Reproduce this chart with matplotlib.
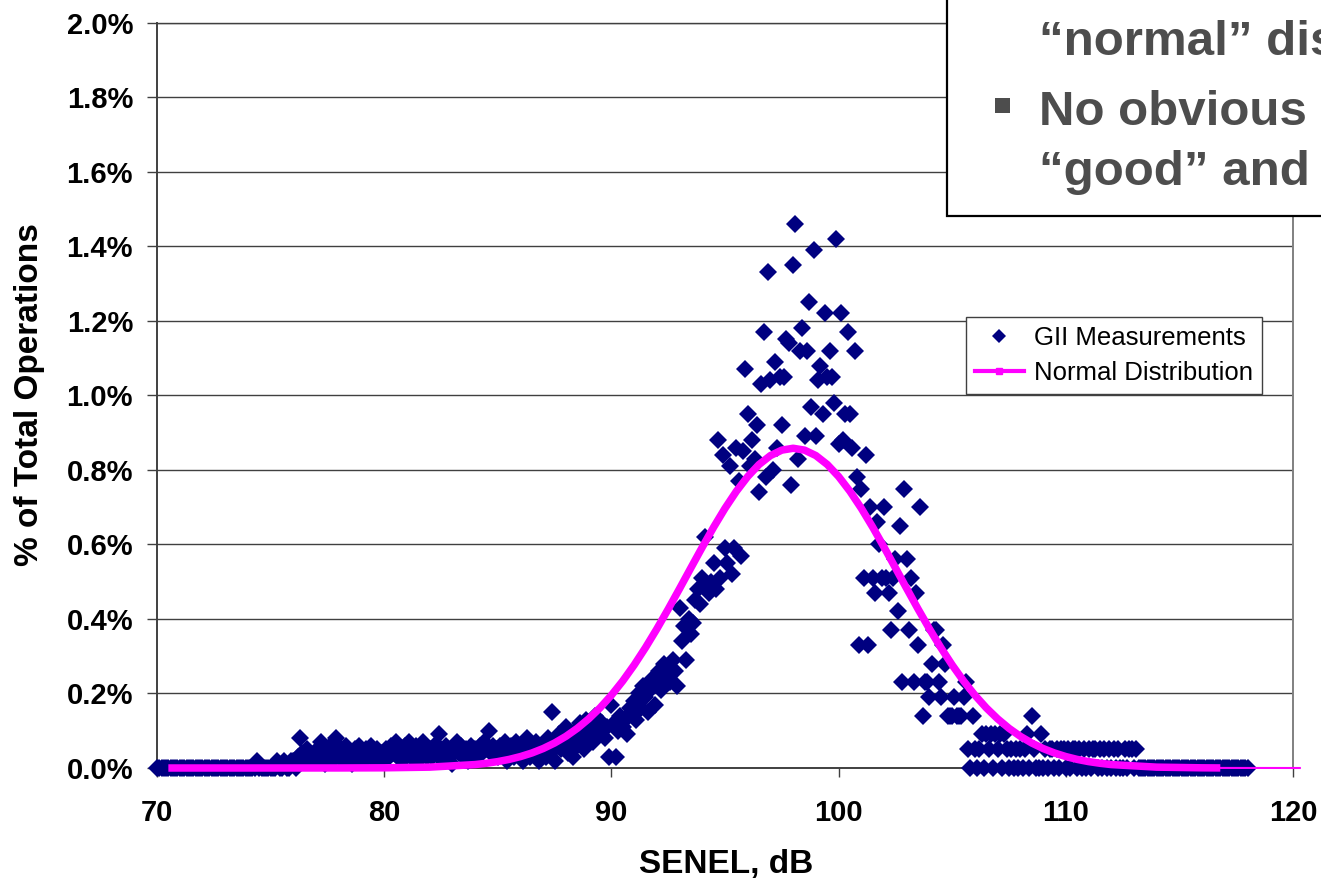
import numpy as np
import matplotlib

matplotlib.use("Agg")
import matplotlib.pyplot as plt
from matplotlib.lines import Line2D
from matplotlib.patches import Rectangle

plt.rcParams["font.family"] = ["Liberation Sans", "DejaVu Sans"]

W, H = 1321, 886

# GII measurements: % of operations per 0.1 dB bin, 70.0 .. 118.0 dB
senel_start = 70.0
senel_step = 0.1
gii_pct = (
    [0.0] * 40  # 70 - 73.9
    + [0, 0, 0, 0, 0.02, 0, 0, 0, 0, 0]
    + [0, 0, 0, 0.02, 0, 0, 0.02, 0, 0, 0.02]
    + [0.02, 0, 0.03, 0.08, 0.04, 0.02, 0.05, 0.03, 0.02, 0.04]
    + [0.02, 0.05, 0.07, 0.03, 0.01, 0.04, 0.06, 0.02, 0.05, 0.08]
    + [0.03, 0.05, 0.02, 0.06, 0.04, 0.03, 0.01, 0.05, 0.03, 0.06]
    + [0.04, 0.02, 0.05, 0.03, 0.06, 0.04, 0.02, 0.05, 0.03, 0.04]
    + [0.02, 0.05, 0.03, 0.06, 0.04, 0.07, 0.03, 0.05, 0.02, 0.06]
    + [0.04, 0.07, 0.03, 0.05, 0.06, 0.02, 0.05, 0.07, 0.04, 0.03]
    + [0.05, 0.03, 0.06, 0.04, 0.09, 0.05, 0.02, 0.06, 0.04, 0.03]
    + [0.01, 0.05, 0.07, 0.04, 0.06, 0.03, 0.05, 0.02, 0.06, 0.04]
    + [0.05, 0.03, 0.06, 0.04, 0.07, 0.05, 0.10, 0.04, 0.06, 0.05]
    + [0.03, 0.06, 0.04, 0.07, 0.02, 0.05, 0.06, 0.03, 0.07, 0.04]
    + [0.06, 0.02, 0.05, 0.08, 0.03, 0.06, 0.04, 0.07, 0.02, 0.05]
    + [0.06, 0.03, 0.08, 0.04, 0.15, 0.02, 0.06, 0.09, 0.05, 0.07]
    + [0.11, 0.04, 0.08, 0.03, 0.10, 0.06, 0.12, 0.09, 0.05, 0.13]
    + [0.08, 0.11, 0.07, 0.14, 0.10, 0.09, 0.12, 0.08, 0.11, 0.03]
    + [0.17, 0.12, 0.03, 0.10, 0.14, 0.11, 0.13, 0.09, 0.16, 0.15]
    + [0.18, 0.13, 0.20, 0.16, 0.22, 0.19, 0.15, 0.21, 0.24, 0.17]
    + [0.23, 0.26, 0.21, 0.28, 0.25, 0.27, 0.23, 0.29, 0.26, 0.22]
    + [0.43, 0.34, 0.38, 0.29, 0.40, 0.36, 0.39, 0.45, 0.48, 0.44]
    + [0.51, 0.62, 0.49, 0.47, 0.50, 0.55, 0.48, 0.88, 0.51, 0.84]
    + [0.59, 0.55, 0.81, 0.52, 0.59, 0.86, 0.77, 0.57, 0.85, 1.07]
    + [0.95, 0.81, 0.88, 0.83, 0.92, 0.74, 1.03, 1.17, 0.78, 1.33]
    + [1.04, 0.80, 1.09, 0.86, 1.05, 0.92, 1.05, 1.15, 1.14, 0.76]
    + [1.35, 1.46, 0.83, 1.12, 1.18, 0.89, 1.12, 1.25, 0.97, 1.39]
    + [0.89, 1.04, 1.08, 0.95, 1.22, 1.05, 1.12, 1.05, 0.98, 1.42]
    + [0.87, 1.22, 0.88, 0.95, 1.17, 0.95, 0.86, 1.12, 0.78, 0.33]
    + [0.75, 0.51, 0.84, 0.33, 0.70, 0.51, 0.47, 0.66, 0.60, 0.51]
    + [0.70, 0.51, 0.47, 0.37, 0.51, 0.56, 0.42, 0.65, 0.23, 0.75]
    + [0.56, 0.37, 0.51, 0.23, 0.47, 0.33, 0.70, 0.14, 0.23, 0.23]
    + [0.19, 0.28, 0.37, 0.37, 0.23, 0.19, 0.33, 0.28, 0.14, 0.14]
    + [0.14, 0.19, 0.14, 0.14, 0.14, 0.19, 0.23, 0.05, 0.00, 0.14]
    + [0.05, 0.00, 0.05, 0.09, 0.00, 0.09, 0.05, 0.09, 0.00, 0.09]
    + [0.05, 0.09, 0.00, 0.09, 0.05, 0.00, 0.05, 0.00, 0.05, 0.00]
    + [0.05, 0.00, 0.05, 0.09, 0.00, 0.14, 0.05, 0.00, 0.00, 0.09]
    + [0.00, 0.05, 0.00, 0.05, 0.05, 0.00, 0.05, 0.00, 0.05, 0.05]
    + [0.00, 0.05, 0.00, 0.05, 0.05, 0.00, 0.05, 0.00, 0.05, 0.00]
    + [0.05, 0.00, 0.05, 0.05, 0.00, 0.05, 0.00, 0.05, 0.00, 0.05]
    + [0.00, 0.05, 0.00, 0.05, 0.00, 0.00, 0.05, 0.00, 0.05, 0.05]
    + [0.00, 0.05, 0.00, 0, 0, 0, 0, 0, 0, 0]
    + [0.0] * 40  # 114 - 117.9
    + [0.0]
)
gii_db = np.round(senel_start + senel_step * np.arange(len(gii_pct)), 1)

# fitted normal distribution curve
norm_db = [70.5, 74, 78, 80, 82, 84, 84.5, 85, 85.5, 86, 86.5, 87, 87.5, 88,
           88.5, 89, 89.5, 90, 90.5, 91, 91.5, 92, 92.5, 93, 93.5, 94, 94.5,
           95, 95.5, 96, 96.5, 97, 97.5, 98, 98.5, 99, 99.5, 100, 100.5, 101,
           101.5, 102, 102.5, 103, 103.5, 104, 104.5, 105, 105.5, 106, 106.5,
           107, 107.5, 108, 108.5, 109, 109.5, 110, 110.5, 111, 111.5, 112,
           114, 116, 116.8]
norm_pct = [0.0, 0.0, 0.0001, 0.0005, 0.0023, 0.0092, 0.0127, 0.0172, 0.0231,
            0.0307, 0.0403, 0.0523, 0.0671, 0.0850, 0.1065, 0.1319, 0.1614,
            0.1953, 0.2336, 0.2763, 0.3230, 0.3732, 0.4263, 0.4813, 0.5372,
            0.5926, 0.6463, 0.6968, 0.7425, 0.7822, 0.8145, 0.8384, 0.8530,
            0.858, 0.8530, 0.8384, 0.8145, 0.7822, 0.7425, 0.6968, 0.6463,
            0.5926, 0.5372, 0.4813, 0.4263, 0.3732, 0.3230, 0.2763, 0.2336,
            0.1953, 0.1614, 0.1319, 0.1065, 0.0850, 0.0671, 0.0523, 0.0403,
            0.0307, 0.0231, 0.0172, 0.0127, 0.0092, 0.0023, 0.0005, 0.0002]
tail_db = [116.8, 118, 120.3]
tail_pct = [0.0002, 0.0001, 0.0]

y_ticks = np.arange(0, 2.01, 0.2)
x_ticks = [70, 80, 90, 100, 110, 120]

box_lines = ["\u201cnormal\u201d dis", "No obvious", "\u201cgood\u201d and"]

NAVY = "#000080"
MAGENTA = "#FF00FF"


def fx(px):
    return px / W


def fy(py):
    return 1 - py / H


fig = plt.figure(figsize=(W / 100, H / 100), dpi=100)
ax = fig.add_axes([fx(157), fy(768), fx(1293) - fx(157), fy(22.7) - fy(768)])

ax.plot(gii_db, gii_pct, "D", color=NAVY, ms=9.3, mew=0, clip_on=False, zorder=3)
ax.plot(tail_db, tail_pct, "-", color=MAGENTA, lw=1.5, clip_on=False, zorder=4)
ax.plot(norm_db, norm_pct, "-", color=MAGENTA, lw=5.4, solid_capstyle="butt",
        clip_on=False, zorder=4)

ax.set_xlim(70, 120)
ax.set_ylim(0, 2.0)
ax.set_xticks(x_ticks)
ax.set_yticks(y_ticks)
ax.set_yticklabels(["%.1f%%" % v for v in y_ticks])
ax.yaxis.grid(True, color="#404040", lw=1.0)
ax.set_axisbelow(True)
for lab in ax.get_xticklabels() + ax.get_yticklabels():
    lab.set_fontweight("bold")
    lab.set_fontsize(21)
ax.tick_params(axis="y", direction="out", length=7.2, width=1, color="#404040", pad=10)
ax.tick_params(axis="x", direction="out", length=6.5, width=1, color="#404040", pad=16)
ax.spines["left"].set_color("#404040")
ax.spines["left"].set_linewidth(1.4)
ax.spines["bottom"].set_color("#404040")
ax.spines["bottom"].set_linewidth(1.4)
ax.spines["right"].set_color("#808080")
ax.spines["right"].set_linewidth(1.4)
ax.spines["top"].set_color("#404040")
ax.spines["top"].set_linewidth(1.0)

fig.text(fx(726), fy(865), "SENEL, dB", ha="center", va="center",
         fontsize=24, fontweight="bold")
fig.text(fx(30), fy(395), "% of Total Operations", ha="center", va="center",
         rotation=90, fontsize=24, fontweight="bold")

handles = [
    Line2D([], [], ls="none", marker="D", color=NAVY, ms=7, mew=0),
    Line2D([], [], color=MAGENTA, lw=3, marker="s", ms=4),
]
leg = ax.legend(handles, ["GII Measurements", "Normal Distribution"],
                loc="upper left", bbox_to_anchor=(fx(966), fy(317)),
                bbox_transform=fig.transFigure, fontsize=18.5, frameon=True,
                fancybox=False, edgecolor="#404040", framealpha=1,
                handlelength=1.9, handletextpad=0.4, borderpad=0.35,
                labelspacing=0.42, borderaxespad=0)
leg.get_frame().set_linewidth(1.0)

# text box overlapping the top right corner
fig.patches.append(Rectangle((fx(946.5), fy(215.5)), 1.0, 1.0, transform=fig.transFigure,
                             facecolor="white", edgecolor="black", lw=1.6, zorder=10))
fig.patches.append(Rectangle((fx(995), fy(113)), fx(15), 15 / H, transform=fig.transFigure,
                             facecolor="#4d4d4d", edgecolor="none", zorder=11))
for text, base in zip(box_lines, [55, 125, 185]):
    fig.text(fx(1039), fy(base), text, ha="left", va="baseline", fontsize=35.5,
             fontweight="bold", color="#4d4d4d", zorder=12)

fig.savefig("out.png", dpi=100)
